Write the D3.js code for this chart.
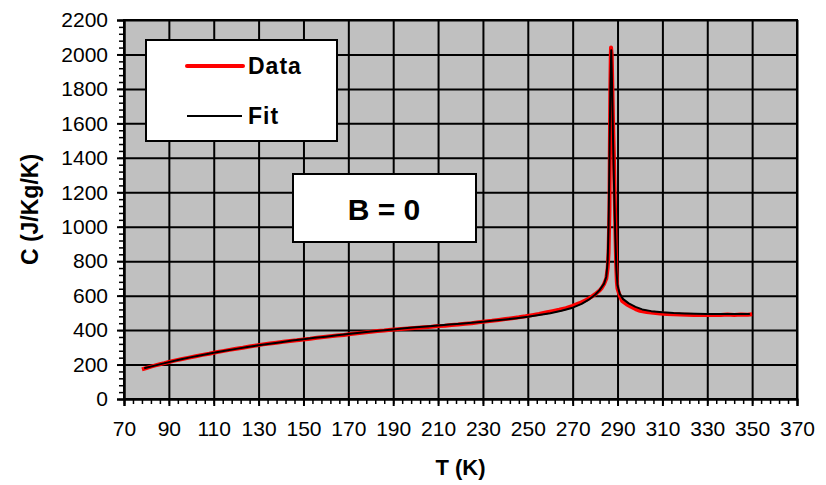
<!DOCTYPE html>
<html lang="en">
<head>
<meta charset="UTF-8">
<title>Specific heat B = 0</title>
<script src="https://cdnjs.cloudflare.com/ajax/libs/d3/7.9.0/d3.min.js"></script>
<style>
  body { margin: 0; background: #fff; }
  svg { display: block; font-family: Arial, "Liberation Sans", sans-serif; }
</style>
</head>
<body>
<svg width="826" height="485"></svg>
<script>
// measured data (red)
const dataT = [78, 80, 82, 84, 86, 88, 90, 93, 96, 99, 102, 105, 108, 111, 114, 117, 120, 123, 126, 129,
  132, 135, 138, 141, 144, 147, 150, 153, 156, 159, 162, 165, 168, 171, 174, 177, 180, 183, 186, 189,
  192, 195, 198, 201, 204, 207, 210, 213, 216, 219, 222, 225, 228, 231, 234, 237, 240, 243, 246, 249,
  252, 255, 258, 261, 264, 267, 270, 273, 276, 278, 280, 282, 283, 284, 285, 285.6, 286, 286.4, 286.6, 286.8,
  287, 287.1, 287.4, 287.7, 288, 288.4, 288.8, 289.1, 289.4, 289.7, 290, 291, 292, 294, 296, 298, 300, 303,
  306, 309, 312, 315, 318, 321, 324, 327, 330, 333, 336, 339, 342, 345, 348, 350];
const dataC = [172, 180, 188, 195, 202, 208, 215, 224, 232, 240, 248, 256, 263, 271, 278, 285, 292, 298, 305, 311,
  317, 322, 327, 332, 337, 341, 346, 350, 355, 360, 364, 368, 372, 377, 382, 386, 390, 395, 398, 402,
  405, 408, 411, 414, 417, 420, 424, 425, 430, 433, 437, 440, 446, 450, 454, 459, 464, 469, 474, 480,
  487, 494, 502, 510, 518, 527, 540, 556, 575, 590, 608, 630, 645, 668, 700, 760, 850, 1100, 1500, 1800,
  2000, 2040, 2000, 1800, 1600, 1400, 1150, 950, 780, 680, 640, 600, 570, 550, 535, 522, 512, 505,
  500, 496, 494, 492, 490, 489, 488, 487, 487, 488, 487, 490, 488, 491, 489, 492];

// fit (black)
const fitT = [79, 85, 90, 95, 100, 105, 110, 115, 120, 125, 130, 135, 140, 145, 150, 155, 160, 165, 170, 175,
  180, 185, 190, 195, 200, 205, 210, 215, 220, 225, 230, 235, 240, 245, 250, 255, 260, 265, 270, 274,
  277, 280, 282, 284, 285, 285.6, 286, 286.4, 286.8, 287.2, 287.6, 288, 288.5, 289, 289.5, 290, 291, 292.5,
  295, 298, 301, 305, 310, 315, 320, 325, 330, 335, 340, 345, 349];
const fitC = [178, 198, 214, 229, 243, 256, 268, 280, 291, 302, 312, 321, 330, 339, 347, 355, 362, 370, 377, 385,
  392, 398, 404, 410, 416, 421, 427, 432, 437, 443, 449, 455, 462, 469, 477, 487, 498, 512, 530, 552,
  575, 605, 632, 670, 710, 800, 1000, 1400, 1800, 2025, 1800, 1500, 1200, 950, 750, 660, 610, 580,
  555, 535, 520, 510, 503, 499, 497, 495, 494, 494, 493, 493, 493];

const xTicks = [70, 90, 110, 130, 150, 170, 190, 210, 230, 250, 270, 290, 310, 330, 350, 370];
const yTicks = [0, 200, 400, 600, 800, 1000, 1200, 1400, 1600, 1800, 2000, 2200];

const svg = d3.select("svg");
const pLeft = 124, pRight = 797, pTop = 20, pBottom = 399;

const x = d3.scaleLinear().domain([70, 370]).range([pLeft, pRight]);
const y = d3.scaleLinear().domain([0, 2200]).range([pBottom, pTop]);

// plot background
svg.append("rect")
  .attr("x", pLeft).attr("y", pTop)
  .attr("width", pRight - pLeft).attr("height", pBottom - pTop)
  .attr("fill", "#c0c0c0");

// grid lines
svg.append("g")
  .attr("transform", `translate(0,${pBottom})`)
  .call(d3.axisBottom(x).tickValues(xTicks).tickSize(-(pBottom - pTop)).tickFormat(""))
  .call(g => g.select(".domain").remove())
  .selectAll("line").attr("stroke", "#000").attr("stroke-width", 2);
svg.append("g")
  .attr("transform", `translate(${pLeft},0)`)
  .call(d3.axisLeft(y).tickValues(yTicks).tickSize(-(pRight - pLeft)).tickFormat(""))
  .call(g => g.select(".domain").remove())
  .selectAll("line").attr("stroke", "#000").attr("stroke-width", 2);

// frame
svg.append("rect")
  .attr("x", pLeft).attr("y", pTop)
  .attr("width", pRight - pLeft).attr("height", pBottom - pTop)
  .attr("fill", "none").attr("stroke", "#000").attr("stroke-width", 2);

// minor ticks
svg.append("g")
  .attr("transform", `translate(0,${pBottom})`)
  .call(d3.axisBottom(x).tickValues(d3.range(70, 371, 4)).tickSize(5).tickFormat(""))
  .call(g => g.select(".domain").remove())
  .selectAll("line").attr("stroke", "#000").attr("stroke-width", 1.5);
svg.append("g")
  .attr("transform", `translate(${pLeft},0)`)
  .call(d3.axisLeft(y).tickValues(d3.range(0, 2201, 40)).tickSize(5).tickFormat(""))
  .call(g => g.select(".domain").remove())
  .selectAll("line").attr("stroke", "#000").attr("stroke-width", 1.5);

// major ticks + labels
const xAxis = svg.append("g")
  .attr("transform", `translate(0,${pBottom})`)
  .call(d3.axisBottom(x).tickValues(xTicks).tickSize(7).tickPadding(15).tickFormat(d3.format("d")));
const yAxis = svg.append("g")
  .attr("transform", `translate(${pLeft},0)`)
  .call(d3.axisLeft(y).tickValues(yTicks).tickSize(7).tickPadding(9).tickFormat(d3.format("d")));
[xAxis, yAxis].forEach(ax => {
  ax.select(".domain").attr("stroke", "#000").attr("stroke-width", 2);
  ax.selectAll("line").attr("stroke", "#000").attr("stroke-width", 2);
  ax.selectAll("text").attr("font-size", 21).attr("fill", "#000")
    .attr("font-family", "Arial, 'Liberation Sans', sans-serif");
});

// series
const line = d3.line().x(d => x(d[0])).y(d => y(d[1]));
svg.append("path")
  .datum(d3.zip(dataT, dataC))
  .attr("d", line)
  .attr("fill", "none").attr("stroke", "#ff0000").attr("stroke-width", 4)
  .attr("stroke-linejoin", "round");
svg.append("path")
  .datum(d3.zip(fitT, fitC))
  .attr("d", line)
  .attr("fill", "none").attr("stroke", "#000").attr("stroke-width", 2)
  .attr("stroke-linejoin", "round");

// legend
const leg = svg.append("g");
leg.append("rect")
  .attr("x", 146).attr("y", 40).attr("width", 191).attr("height", 101)
  .attr("fill", "#fff").attr("stroke", "#000").attr("stroke-width", 2);
leg.append("line").attr("x1", 187).attr("x2", 243).attr("y1", 66).attr("y2", 66)
  .attr("stroke", "#ff0000").attr("stroke-width", 4).attr("stroke-linecap", "round");
leg.append("line").attr("x1", 187).attr("x2", 242).attr("y1", 116).attr("y2", 116)
  .attr("stroke", "#000").attr("stroke-width", 2);
leg.append("text").attr("x", 248).attr("y", 74).text("Data")
  .attr("font-size", 23).attr("font-weight", "bold").attr("letter-spacing", 1);
leg.append("text").attr("x", 248).attr("y", 124).text("Fit")
  .attr("font-size", 23).attr("font-weight", "bold").attr("letter-spacing", 1);

// annotation box
svg.append("rect")
  .attr("x", 293).attr("y", 174).attr("width", 183).attr("height", 68)
  .attr("fill", "#fff").attr("stroke", "#000").attr("stroke-width", 2);
svg.append("text")
  .attr("x", 384).attr("y", 220).attr("text-anchor", "middle")
  .attr("font-size", 30).attr("font-weight", "bold").text("B = 0");

// axis titles
svg.append("text")
  .attr("x", (pLeft + pRight) / 2).attr("y", 475).attr("text-anchor", "middle")
  .attr("font-size", 22).attr("font-weight", "bold").text("T (K)");
svg.append("text")
  .attr("transform", `translate(38,${(pTop + pBottom) / 2}) rotate(-90)`)
  .attr("text-anchor", "middle")
  .attr("font-size", 23).attr("font-weight", "bold").text("C (J/Kg/K)");
</script>
</body>
</html>
